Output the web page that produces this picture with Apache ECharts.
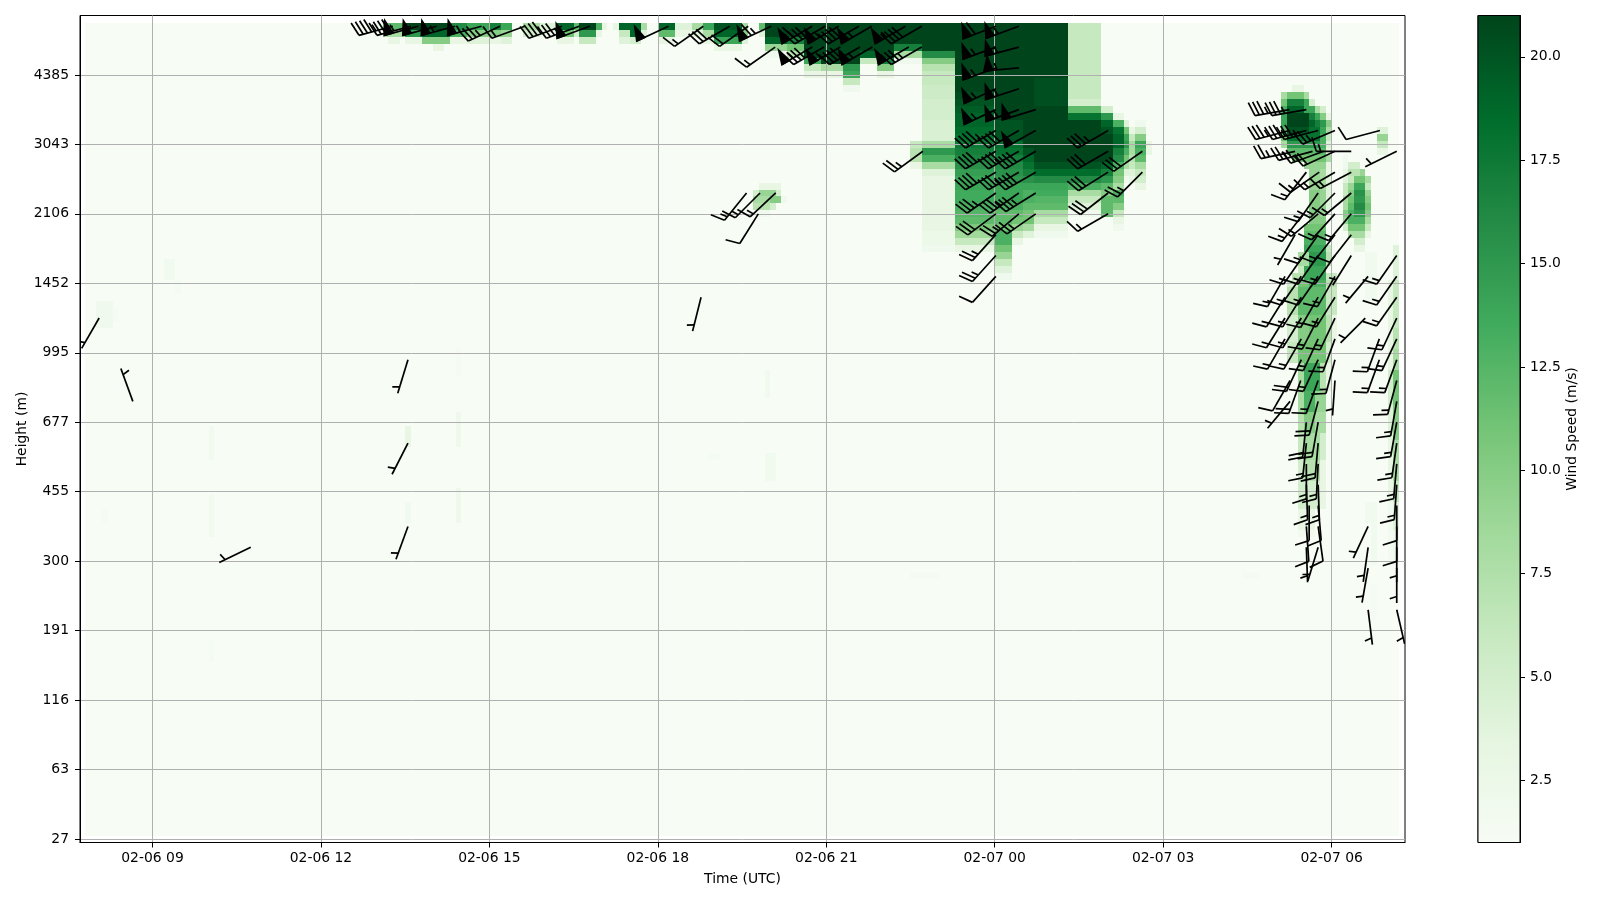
<!DOCTYPE html>
<html>
<head>
<meta charset="utf-8">
<title>Wind speed</title>
<script src="https://cdn.jsdelivr.net/npm/echarts@6/dist/echarts.min.js"></script>
<style>
  html, body { margin: 0; background: #fff; }
  #chart { width: 1600px; height: 900px; }
</style>
</head>
<body>
<div id="chart"></div>
<script>
// tick labels
const timeTicks = [9, 12, 15, 18, 21, 24, 27, 30] // hours since 02-06 00:00
const timeLabels = ['02-06 09', '02-06 12', '02-06 15', '02-06 18', '02-06 21', '02-07 00', '02-07 03', '02-07 06']
const heightLabels = [27, 63, 116, 191, 300, 455, 677, 995, 1452, 2106, 3043, 4385] // one every 10 gates
const colorbarTicks = [2.5, 5, 7.5, 10, 12.5, 15, 17.5, 20]
const speedMin = 1
const speedMax = 21
const greens = ['#f7fcf5', '#e5f5e0', '#c7e9c0', '#a1d99b', '#74c476', '#41ab5d', '#238b45', '#006d2c', '#00441b']

// heat blocks: [t0, t1, lowest gate, highest gate, m/s]
const backgroundBlock = [[7.8, 31.2, 1, 117, 1]]
const coreBlocks = [[23.3, 25.3, 108, 117, 21], [25.3, 25.9, 107, 117, 6]]

// heat profiles: [t0, t1, top gate, [m/s going down gate by gate]]
const topBandProfiles = [
  [13.1, 13.5, 117, [12, 8]], [13.2, 13.4, 115, [3]],
  [13.5, 13.8, 117, [21, 15, 3]], [13.8, 14.3, 117, [21, 19, 10]], [14.0, 14.2, 114, [3]],
  [14.3, 14.6, 117, [16, 13, 3]], [14.6, 15.0, 117, [14, 10, 4]], [15.0, 15.2, 117, [17, 10, 3]],
  [15.2, 15.4, 117, [14, 9, 4]], [15.6, 15.9, 117, [8, 5]], [15.9, 16.2, 117, [4, 2]],
  [16.2, 16.5, 117, [19, 11, 3]], [16.5, 16.6, 117, [12, 5]], [16.6, 16.9, 117, [21, 15, 6]],
  [16.9, 17.0, 117, [13, 3]], [17.0, 17.1, 117, [3]], [17.2, 17.3, 117, [3]],
  [17.3, 17.5, 117, [19, 6, 4]], [17.5, 17.7, 117, [19, 19, 5]], [17.7, 17.8, 117, [8, 4]],
  [18.0, 18.3, 117, [19, 12, 3]], [18.3, 18.6, 117, [4, 3]], [18.6, 18.8, 117, [8, 4]],
  [18.8, 19.0, 117, [14, 8, 3]], [19.0, 19.5, 117, [20, 19, 14, 3]], [19.5, 19.6, 117, [8, 10, 4]],
  [19.8, 19.9, 117, [12, 4]], [19.9, 20.3, 117, [21, 21, 19, 9, 2]], [20.3, 20.6, 117, [21, 21, 17, 11, 7]],
  [20.6, 20.9, 117, [21, 21, 21, 21, 21, 14, 6, 3]],
  [20.9, 21.3, 117, [21, 21, 21, 21, 21, 21, 8, 3]],
  [21.3, 21.6, 117, [21, 21, 21, 21, 21, 21, 15, 14, 6, 2]],
  [21.6, 21.9, 117, [21, 21, 21, 21, 19, 6]],
  [21.9, 22.2, 117, [21, 21, 21, 21, 21, 17, 10, 3]],
  [22.2, 22.7, 117, [21, 21, 21, 17, 8, 2]],
  [22.7, 23.3, 117, [21, 21, 21, 21, 16, 10, 7]]
]
const coreProfiles = [
  [22.7, 23.3, 110, [6, 6, 5.5, 5.5, 5, 5, 5, 4.5, 4.5, 4.5, 8, 15, 13, 8, 4, 3, 3, 3, 3, 3, 3, 3, 3, 2.5, 2.5, 2]],
  [22.5, 22.7, 100, [6, 7, 7, 3]],
  [23.3, 24.0, 107, [20.5, 20, 19.5, 19, 19, 18.5, 18, 17.5, 17, 16.5, 15.5, 14.5, 14, 14, 13.5, 13.5, 13, 12.5, 12, 10.5, 8.5, 6, 3]],
  [24.0, 24.3, 107, [21, 21, 21, 21, 20, 20, 20, 18.5, 18, 17, 16, 15.5, 15, 14, 14, 14, 13, 12, 12, 11, 13, 13, 11, 9, 6, 4, 2]],
  [24.3, 24.5, 107, [21, 21, 21, 21, 20, 20, 20, 18.5, 18, 17, 16, 15.5, 15, 14, 14, 14, 13, 12, 11, 9, 6, 3]],
  [24.5, 24.7, 107, [21, 21, 21, 21, 21, 21, 21, 21, 20, 19, 18, 17, 15.5, 14, 13, 13, 12, 11, 11, 8, 4]],
  [24.7, 25.3, 109, [20.3, 20.3, 20.3, 20.3, 21, 21, 21, 21, 21, 21, 21, 21, 20, 18.5, 16, 14, 13.5, 12.5, 12, 8, 6, 3, 2]],
  [25.3, 25.9, 106, [5, 12, 18, 21, 21, 21, 21, 21, 21, 20, 18.5, 16, 13, 8, 6, 4, 2]],
  [25.9, 26.1, 105, [5, 15, 19, 20, 21, 21, 21, 21, 19, 17, 15, 12, 10, 12, 12, 12]],
  [26.1, 26.3, 104, [3, 13, 18, 19, 19, 17, 16, 13, 11, 10, 8, 13, 12, 10, 6, 3, 2]],
  [26.3, 26.4, 103, [4, 11, 14, 15, 13, 11, 8, 4, 2]],
  [26.4, 26.5, 102, [3, 6, 8, 8, 7, 6, 4, 3]],
  [26.5, 26.7, 103, [2, 5, 10, 14, 13, 12, 8, 6, 5, 3]],
  [26.7, 26.8, 100, [3, 3]],
  [19.8, 20.2, 94, [3]], [19.7, 19.8, 93, [5, 8, 7]], [19.8, 20.0, 93, [9, 8, 7, 2]],
  [20.0, 20.1, 93, [9, 10, 5]], [20.1, 20.2, 93, [5, 10]], [20.2, 20.3, 92, [2]]
]
const dawnProfiles = [
  [29.3, 29.5, 108, [3]], [29.1, 29.2, 107, [8, 11, 13, 14, 14, 12, 11, 8]],
  [29.2, 29.5, 107, [11, 17, 19, 21, 21, 20, 18, 15, 12]],
  [29.3, 29.5, 98, [11]],
  [29.5, 29.6, 107, [8, 14, 14, 21, 21, 20, 18, 15, 12, 11, 9]],
  [29.6, 29.7, 106, [5, 14, 17, 19, 18, 18, 15, 12, 11, 9, 9, 9, 9, 10, 10, 10, 10]],
  [29.7, 29.8, 105, [8, 14, 17, 18, 18, 15, 12, 11, 9, 9, 9, 9, 10, 10, 10, 10]],
  [29.8, 29.9, 105, [5, 10, 15, 14, 13, 13, 12, 11, 9, 8, 8, 8, 9, 9, 9, 9]],
  [29.9, 30.0, 104, [3, 10, 8, 6, 4, 3, 8, 3, 3, 4, 4, 4, 4, 4]],
  [30.2, 30.3, 98, [2, 2, 3, 4, 6, 6, 8, 8, 10, 9, 5]],
  [30.3, 30.4, 97, [5, 7, 6, 9, 10, 11, 12, 13, 13, 11, 8]],
  [30.4, 30.5, 97, [5, 7, 11, 14, 15.5, 15, 16, 15, 13, 11, 8, 5, 3]],
  [30.5, 30.6, 96, [9, 11, 14, 15.5, 15, 16, 15, 13, 11, 8, 5, 3]],
  [30.6, 30.7, 95, [8, 6, 9, 10, 11, 10, 8, 6, 3]],
  [30.8, 31.0, 102, [4, 9, 6, 3]],
  [29.6, 29.9, 89, [10]], [29.5, 29.9, 88, [11, 12, 13, 14]], [29.9, 30.0, 85, [6, 7, 7]],
  [29.4, 29.6, 84, [8, 8]], [29.6, 29.9, 84, [15, 15]], [29.4, 29.5, 82, [6]], [29.5, 29.9, 82, [14, 14]],
  [29.3, 29.5, 81, [7]], [29.9, 30.1, 81, [6, 7, 6, 6, 6, 6]],
  [29.2, 29.4, 80, [5, 7, 7, 7, 7, 5, 5, 5, 5, 6, 6, 6]], [29.4, 29.6, 80, [11, 12, 12, 12, 12, 10, 10, 10, 10, 11, 11, 11]],
  [29.6, 29.9, 80, [13, 12, 12, 12, 12, 11, 11, 11, 11, 11, 11, 11]],
  [29.9, 30.0, 75, [7, 7, 7, 7, 5, 5, 5]], [30.0, 30.1, 75, [3, 3, 3, 3]],
  [29.4, 29.5, 68, [8, 8, 8, 8, 8, 8, 8, 7, 7, 7, 6, 6, 6, 6, 5, 5, 5, 5, 5, 5, 5, 3, 3, 3, 1.5]],
  [29.5, 29.7, 68, [14, 14, 14, 14, 13, 13, 13, 10, 10, 10, 8, 8, 8, 8, 7, 7, 7, 5, 5, 5, 5, 3, 3, 3, 1.5]],
  [29.7, 29.8, 68, [14, 14, 14, 14, 9, 9, 9, 8, 8, 8, 8, 8, 8, 8, 7, 7, 7, 5, 5, 5, 5]],
  [29.8, 29.9, 68, [7, 7, 7, 7, 9, 9, 9, 8, 8, 8, 5, 5, 5, 5, 3, 3, 3, 3, 3, 3, 3]],
  [29.9, 30.0, 68, [3, 3, 3, 3]],
  [31.0, 31.1, 80, [3, 3, 3, 3, 3, 3, 3, 3, 3, 3, 3, 3, 3, 5, 5, 5, 5, 5, 4, 4, 4, 4, 4, 3, 3, 3, 3, 3, 3, 3, 3, 3, 2, 2, 2, 2, 1.5, 1.5, 1.5, 1.5, 1.5]],
  [31.1, 31.2, 85, [4, 4, 4, 4, 4, 6, 6, 6, 6, 6, 6, 6, 7, 7, 7, 8, 8, 8, 11, 11, 11, 11, 11, 10, 10, 10, 10, 10, 8, 8, 8, 8, 8, 8, 6, 6, 6, 4, 4, 4, 4, 2, 2, 2, 2, 2]]
]
// very pale smudges, [t0, t1, lowest gate, highest gate, m/s]
const faintBlocks = [
  [9.2, 9.4, 81, 83, 1.8], [9.4, 9.5, 79, 80, 1.4], [8.0, 8.3, 74, 77, 2], [8.3, 8.4, 75, 76, 1.4],
  [10.0, 10.1, 55, 59, 1.8], [10.0, 10.1, 44, 49, 1.8], [8.1, 8.2, 46, 47, 1.4],
  [14.4, 14.5, 57, 61, 2.2], [14.4, 14.5, 67, 70, 1.4], [14.4, 14.5, 46, 50, 2.2],
  [13.5, 13.6, 57, 59, 3], [13.5, 13.6, 46, 48, 1.8], [19.9, 20.0, 64, 67, 1.8],
  [19.9, 20.1, 52, 55, 1.8], [18.9, 19.1, 55, 55, 1.4], [10.0, 10.1, 26, 28, 1.4],
  [28.4, 28.7, 38, 38, 1.4], [22.5, 23.0, 38, 38, 1.3], [30.6, 30.8, 46, 48, 1.8],
  [30.7, 30.8, 40, 48, 1.8], [30.7, 30.8, 32, 36, 1.4], [30.6, 30.8, 78, 84, 1.8]
]

// wind barbs: one entry per barb in these four lists, speed in barb units (flag 50, full 10, half 5)
const barbTimes = [
  8.05, 8.65, 10.75, 13.55, 13.55, 13.55, 18.77,
  20.1, 19.82, 19.58, 19.79, 22.72, 20.09,
  13.28, 13.6, 13.73, 14.06, 14.39, 14.86, 15.19, 15.63, 16.29, 16.6, 16.79, 18.19, 18.81, 19.28, 19.61, 20.02,
  20.75, 20.98, 21.22, 21.58, 21.81, 22.41, 22.7,
  20.75, 20.96, 21.25, 21.6, 21.82, 22.47, 22.7,
  24.02, 24.02, 24.02, 24.02, 24.02, 24.02, 24.02, 24.02, 24.02, 24.02, 24.02, 24.02, 24.02,
  24.43, 24.43, 24.43, 24.43, 24.43, 24.43, 24.43, 24.43, 24.43, 24.43,
  24.73, 24.73, 24.73, 24.73, 24.73, 24.73,
  26.02, 26.02, 26.02, 26.02, 26.02, 26.63, 26.63,
  29.25, 29.55,
  29.25, 29.55, 29.76, 30.06, 30.86,
  29.35, 29.66, 29.86, 30.06, 30.35, 31.16,
  30.35, 30.06, 29.78, 29.55,
  30.35, 30.06, 29.76,
  30.35, 30.06, 29.76, 29.5,
  30.35, 30.06, 29.76, 29.35,
  30.35, 30.06, 29.76, 29.5, 31.16,
  30.65, 30.06, 29.76, 29.46, 29.17, 31.16,
  30.06, 29.76, 29.46, 29.17, 31.16,
  30.6, 30.06, 29.76, 29.46, 29.17, 31.16,
  30.06, 29.76, 29.46, 29.17, 31.16, 30.85,
  30.06, 29.76, 29.46, 31.16, 30.85,
  30.06, 29.76, 29.45, 29.26, 31.16,
  29.76, 29.26, 31.16,
  29.76, 29.55, 31.16,
  29.76, 29.55, 31.16,
  29.76, 29.55, 31.16,
  29.76, 29.55, 31.16,
  29.76, 29.6, 31.16,
  29.76, 29.55, 30.65, 31.16,
  29.76, 29.55, 30.65, 31.16,
  30.65, 31.16,
  30.65, 31.16
]
const barbGates = [
  75, 63, 42, 69, 57, 45, 78,
  93, 93, 93, 90, 99, 114,
  117, 117, 117, 117, 117, 117, 117, 117, 117, 117, 117, 117, 117, 117, 117, 117,
  117, 117, 117, 117, 117, 117, 117,
  114, 114, 114, 114, 114, 114, 114,
  117, 114, 111, 108, 105, 102, 99, 96, 93, 90, 87, 84, 81,
  117, 114, 111, 108, 105, 102, 99, 96, 93, 90,
  105, 102, 99, 96, 93, 90,
  102, 99, 96, 93, 90, 99, 96,
  105, 105,
  102, 102, 102, 102, 102,
  99, 99, 99, 99, 99, 99,
  96, 96, 96, 96,
  93, 93, 93,
  90, 90, 90, 90,
  87, 87, 87, 87,
  84, 84, 84, 84, 84,
  81, 81, 81, 81, 81, 81,
  78, 78, 78, 78, 78,
  75, 75, 75, 75, 75, 75,
  72, 72, 72, 72, 72, 72,
  69, 69, 69, 69, 69,
  66, 66, 66, 66, 66,
  63, 63, 63,
  60, 60, 60,
  57, 57, 57,
  54, 54, 54,
  51, 51, 51,
  48, 48, 48,
  45, 45, 45, 45,
  42, 42, 42, 42,
  39, 39,
  33, 33
]
const barbDirs = [
  210, 340, 244, 197, 207, 200, 194,
  227, 225, 219, 212, 234, 235,
  255, 255, 255, 255, 255, 255, 245, 250, 250, 250, 250, 245, 235, 240, 235, 245,
  240, 240, 240, 240, 240, 240, 240,
  240, 240, 240, 240, 240, 240, 240,
  249, 250, 250, 245, 245, 240, 240, 240, 235, 233, 222, 222, 222,
  250, 255, 265, 252, 250, 240, 240, 240, 235, 230,
  253, 241, 240, 240, 238, 235,
  240, 240, 238, 232, 240, 235, 225,
  260, 260,
  255, 255, 255, 247, 255,
  258, 255, 250, 245, 270, 244,
  242, 240, 235, 218,
  230, 225, 215,
  220, 222, 230, 218,
  218, 218, 215, 210,
  212, 215, 215, 215, 215,
  220, 210, 215, 215, 210, 215,
  212, 210, 212, 212, 215,
  225, 205, 207, 212, 212, 205,
  200, 205, 210, 210, 205, 200,
  195, 205, 205, 200, 200,
  184, 200, 200, 210, 195,
  195, 220, 190,
  190, 186, 190,
  185, 186, 188,
  183, 180, 185,
  178, 178, 184,
  175, 180, 180,
  172, 176, 205, 180,
  197, 178, 188, 180,
  190, 180,
  173, 167
]
const barbSpeeds = [
  5, 5, 5, 5, 5, 5, 5,
  15, 15, 15, 10, 25, 15,
  45, 45, 50, 50, 55, 55, 35, 15, 40, 35, 50, 50, 15, 30, 20, 65,
  60, 40, 55, 45, 55, 55, 40,
  55, 40, 55, 45, 55, 50, 35,
  60, 55, 55, 55, 55, 45, 40, 40, 35, 30, 25, 25, 10,
  55, 55, 55, 55, 55, 40, 40, 35, 35, 25,
  50, 50, 40, 40, 35, 25,
  35, 30, 30, 30, 15, 30, 25,
  35, 35,
  35, 35, 35, 25, 10,
  25, 25, 25, 20, 15, 5,
  15, 15, 15, 15,
  15, 15, 15,
  15, 15, 15, 15,
  10, 15, 15, 5,
  5, 15, 15, 15, 15,
  5, 15, 15, 15, 15, 15,
  15, 15, 15, 15, 15,
  5, 15, 15, 15, 15, 15,
  15, 15, 15, 15, 15, 15,
  15, 15, 20, 15, 15,
  5, 15, 20, 10, 15,
  20, 5, 15,
  20, 20, 15,
  20, 15, 15,
  15, 15, 15,
  15, 15, 15,
  10, 10, 10,
  10, 10, 5, 10,
  5, 5, 5, 5,
  5, 5,
  5, 5
]

const barbLength = 35

const heatData = backgroundBlock.concat(faintBlocks, coreBlocks)
for (const [t0, t1, top, values] of [...topBandProfiles, ...coreProfiles, ...dawnProfiles]) {
  values.forEach((v, i) => heatData.push([t0, t1, top - i, top - i, v]))
}

const barbData = barbTimes.map((t, i) => [t, barbGates[i], barbDirs[i], barbSpeeds[i]])

function renderHeat(params, api) {
  const a = api.coord([api.value(0), api.value(3) + 0.5])
  const b = api.coord([api.value(1), api.value(2) - 0.5])
  const x = Math.round(a[0])
  const y = Math.round(a[1])
  return {
    type: 'rect',
    shape: { x, y, width: Math.round(b[0]) - x, height: Math.round(b[1]) - y },
    style: { fill: api.visual('color') }
  }
}

// same proportions as matplotlib's barbs, staff runs from the station point out to the flagged end
function renderBarb(params, api) {
  const p = api.coord([api.value(0), api.value(1)])
  const dir = api.value(2) * Math.PI / 180
  let speed = api.value(3)
  const L = barbLength
  const spacing = L * 0.125
  const height = L * 0.4
  const width = L * 0.25
  const dx = Math.sin(dir)
  const dy = -Math.cos(dir)
  const pt = (along, side) => [p[0] + dx * along - dy * side, p[1] + dy * along + dx * side]

  const flags = Math.floor(speed / 50)
  speed -= flags * 50
  const fulls = Math.floor(speed / 10)
  speed -= fulls * 10
  const half = speed >= 5

  const lineStyle = { stroke: '#000', lineWidth: 1.7, fill: null }
  const children = [{ type: 'polyline', shape: { points: [pt(0, 0), pt(L, 0)] }, style: lineStyle }]
  let offset = L
  for (let i = 0; i < flags; i++) {
    if (offset !== L) offset += spacing / 2
    children.push({
      type: 'polygon',
      shape: { points: [pt(offset, 0), pt(offset - width / 2, height), pt(offset - width, 0)] },
      style: { fill: '#000', stroke: '#000', lineWidth: 1.7 }
    })
    offset -= width + spacing
  }
  for (let i = 0; i < fulls; i++) {
    children.push({ type: 'polyline', shape: { points: [pt(offset, 0), pt(offset + width / 2, height)] }, style: lineStyle })
    offset -= spacing
  }
  if (half) {
    if (offset === L) offset -= 1.5 * spacing
    children.push({ type: 'polyline', shape: { points: [pt(offset, 0), pt(offset + width / 4, height / 2)] }, style: lineStyle })
  }
  return { type: 'group', children }
}

function renderColorbar(params, api) {
  const a = api.coord([0, speedMax])
  const b = api.coord([1, speedMin])
  const stops = greens.map((color, i) => ({ offset: i / (greens.length - 1), color }))
  return {
    type: 'rect',
    shape: { x: a[0], y: a[1], width: b[0] - a[0], height: b[1] - a[1] },
    style: { fill: new echarts.graphic.LinearGradient(0, 1, 0, 0, stops), stroke: '#000', lineWidth: 1 }
  }
}

const font = { fontFamily: 'DejaVu Sans', fontSize: 13.9, color: '#000' }
const tickLine = { show: true, length: 5, lineStyle: { color: '#000', width: 1 } }
const gridLine = { show: true, lineStyle: { color: '#b0b0b0', width: 1 } }

const chart = echarts.init(document.getElementById('chart'), null, { renderer: 'canvas' })
chart.setOption({
  animation: false,
  backgroundColor: '#fff',
  textStyle: { fontFamily: 'DejaVu Sans' },
  grid: [
    { left: 80, top: 15.5, width: 1325, height: 827, show: true, borderColor: '#000', borderWidth: 1, backgroundColor: '#fff' },
    { left: 1478, top: 15.5, width: 42, height: 827, show: true, borderColor: '#000', borderWidth: 1 }
  ],
  visualMap: {
    show: false,
    type: 'continuous',
    seriesIndex: 0,
    dimension: 4,
    min: speedMin,
    max: speedMax,
    inRange: { color: greens }
  },
  xAxis: [
    {
      type: 'value',
      gridIndex: 0,
      min: 7.709,
      max: 31.307,
      z: 2,
      name: 'Time (UTC)',
      nameLocation: 'middle',
      nameGap: 30,
      nameMoveOverlap: false,
      nameTextStyle: font,
      axisLine: { show: true, onZero: false, lineStyle: { color: '#000', width: 1 } },
      axisTick: { ...tickLine, customValues: timeTicks },
      axisLabel: {
        ...font,
        margin: 9,
        customValues: timeTicks,
        formatter: v => timeLabels[timeTicks.indexOf(v)]
      },
      splitLine: gridLine
    },
    { type: 'value', gridIndex: 1, min: 0, max: 1, show: false }
  ],
  yAxis: [
    {
      type: 'value',
      gridIndex: 0,
      min: -0.5,
      max: 118.55,
      z: 2,
      name: 'Height (m)',
      nameLocation: 'middle',
      nameGap: 51,
      nameMoveOverlap: false,
      nameTextStyle: font,
      axisLine: { show: true, onZero: false, lineStyle: { color: '#000', width: 1 } },
      axisTick: { ...tickLine, customValues: heightLabels.map((h, i) => i * 10) },
      axisLabel: {
        ...font,
        margin: 11,
        customValues: heightLabels.map((h, i) => i * 10),
        formatter: v => String(heightLabels[v / 10])
      },
      splitLine: gridLine
    },
    {
      type: 'value',
      gridIndex: 1,
      position: 'right',
      min: speedMin,
      max: speedMax,
      z: 2,
      name: 'Wind Speed (m/s)',
      nameLocation: 'middle',
      nameRotate: 90,
      nameGap: 45,
      nameMoveOverlap: false,
      nameTextStyle: font,
      axisLine: { show: true, onZero: false, lineStyle: { color: '#000', width: 1 } },
      axisTick: { ...tickLine, customValues: colorbarTicks },
      axisLabel: {
        ...font,
        margin: 10,
        customValues: colorbarTicks,
        formatter: v => v.toFixed(1)
      },
      splitLine: { show: false }
    }
  ],
  series: [
    {
      type: 'custom',
      name: 'speed',
      xAxisIndex: 0,
      yAxisIndex: 0,
      z: 1,
      silent: true,
      progressive: 0,
      renderItem: renderHeat,
      data: heatData
    },
    {
      type: 'custom',
      name: 'barbs',
      xAxisIndex: 0,
      yAxisIndex: 0,
      z: 3,
      clip: true,
      silent: true,
      progressive: 0,
      renderItem: renderBarb,
      data: barbData
    },
    {
      type: 'custom',
      name: 'colorbar',
      xAxisIndex: 1,
      yAxisIndex: 1,
      z: 1,
      silent: true,
      renderItem: renderColorbar,
      data: [[0, speedMin]]
    }
  ]
})
</script>
</body>
</html>
